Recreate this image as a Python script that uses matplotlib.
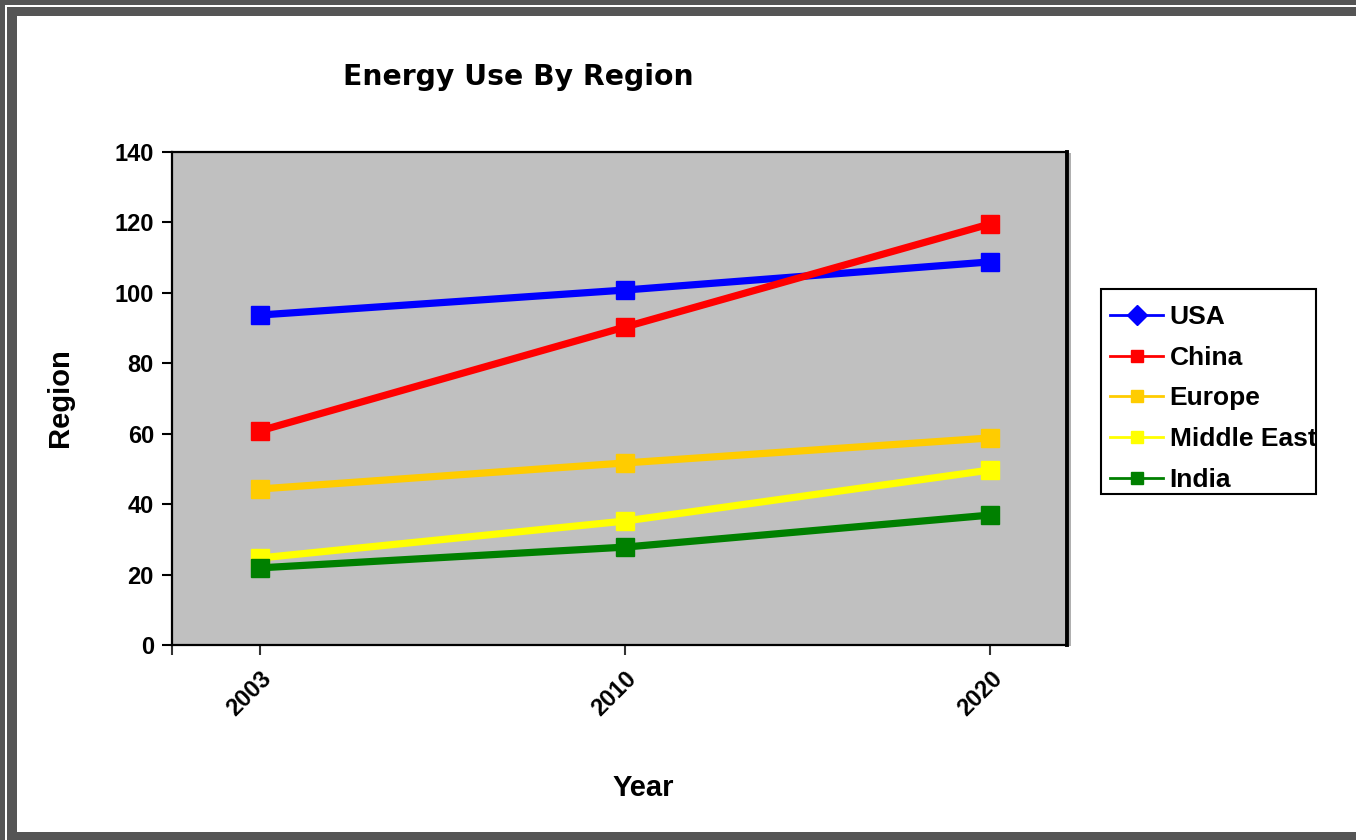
import matplotlib
matplotlib.use("Agg")
import matplotlib.pyplot as plt
from matplotlib.lines import Line2D
from matplotlib.patches import Rectangle

years = ["2003", "2010", "2020"]
regions = ["USA", "China", "Europe", "Middle East", "India"]
usa = [93.7, 100.8, 108.8]
china = [60.8, 90.3, 119.6]
europe = [44.3, 51.7, 58.8]
middle_east = [24.7, 35.2, 49.7]
india = [21.9, 27.8, 36.9]
series = [usa, china, europe, middle_east, india]
colors = ["#0000FF", "#FF0000", "#FFCC00", "#FFFF00", "#008000"]
legend_markers = ["D", "s", "s", "s", "s"]

plt.rcParams["font.family"] = ["Liberation Sans", "DejaVu Sans"]
plt.rcParams["font.weight"] = "bold"

fig = plt.figure(figsize=(13.56, 8.4), dpi=100)
fig.patch.set_facecolor("white")

# screenshot frame (grey bands top/left/bottom)
W, H = 1356.0, 840.0
frame = "#555555"
def band(x0, y0, x1, y1, c, z=0, fill=True, ec=None, lw=0):
    r = Rectangle((x0 / W, 1 - y1 / H), (x1 - x0) / W, (y1 - y0) / H,
                  transform=fig.transFigure, fc=c if fill else "none",
                  ec=ec if ec else "none", lw=lw, zorder=z)
    fig.patches.append(r)
band(0, 0, W, 5, frame)
band(0, 0, 5, H, frame)
band(7, 7, W, 16, frame)
band(7, 7, 17, H, frame)
band(7, 832, W, H, frame)
# light shadow right of plot area
band(1068.5, 153, 1071, 646, "#B0B0B0")
# legend box
band(1101, 289, 1316, 494, "white", z=1, ec="black", lw=1.5)

ax = fig.add_axes([172 / W, 1 - 645 / H, (1067 - 172) / W, (645 - 152) / H])
ax.set_facecolor("#C0C0C0")

x = list(range(len(years)))
for vals, c in zip(series, colors):
    ax.plot(x, vals, color=c, lw=5.2, marker="s", ms=13.5, mec=c, mfc=c, solid_capstyle="butt")

ax.set_xlim(-0.24, 2.21)
ax.set_ylim(0, 140)
ax.set_yticks(range(0, 141, 20))
ax.set_xticks(x)
ax.set_xticks([-0.24], minor=True)
ax.set_xticklabels(years, rotation=45, ha="right", rotation_mode="anchor")
ax.tick_params(axis="y", labelsize=17, length=7, width=1.5, pad=6)
ax.tick_params(axis="x", which="both", labelsize=17, length=7, width=1.5, color="#333333", pad=9)
for lab in ax.get_xticklabels() + ax.get_yticklabels():
    lab.set_fontweight("bold")

for s in ["left", "bottom", "top"]:
    ax.spines[s].set_linewidth(1.6)
ax.spines["right"].set_linewidth(2.8)

fig.text(60 / W, 1 - 398 / H, "Region", fontsize=21, fontweight="bold",
         rotation=90, ha="center", va="center")
fig.text(643 / W, 1 - 788 / H, "Year", fontsize=21, fontweight="bold",
         ha="center", va="center")
fig.text(518 / W, 1 - 77 / H, "Energy Use By Region", fontsize=20.3, fontweight="bold",
         ha="center", va="center", family=["DejaVu Sans"])

handles = [Line2D([0], [0], color=c, lw=2, marker=m, ms=10 if m == "D" else 9, mfc=c, mec=c)
           for c, m in zip(colors, legend_markers)]
leg = fig.legend(handles, regions, loc="upper left", bbox_to_anchor=(1101 / W, 1 - 296 / H),
                 prop={"size": 19, "weight": "bold"}, frameon=False,
                 handlelength=2.0, handletextpad=0.25, labelspacing=0.63,
                 borderpad=0.35, borderaxespad=0)
leg.set_zorder(2)

fig.savefig("out.png", dpi=100)
